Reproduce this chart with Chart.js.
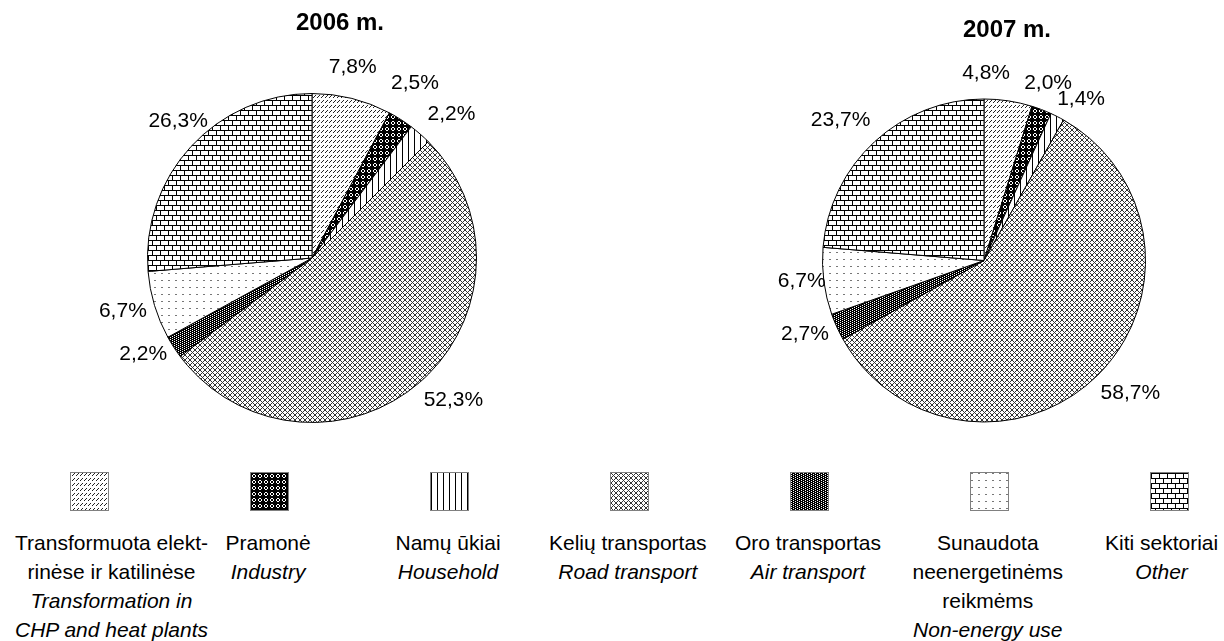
<!DOCTYPE html>
<html>
<head>
<meta charset="utf-8">
<script src="https://cdn.jsdelivr.net/npm/chart.js@4.4.0/dist/chart.umd.min.js"></script>
<style>
  body { margin: 0; background: #fff; width: 1224px; height: 641px; overflow: hidden; position: relative;
         font-family: "Liberation Sans", Arial, sans-serif; color: #000; }
  canvas.pie { position: absolute; top: 0; }
  .swatch { position: absolute; border: 1px solid #808080; box-sizing: border-box; }
  .text { position: absolute; text-align: center; font-size: 21px; line-height: 29px; white-space: nowrap; }
</style>
</head>
<body>
<canvas id="pie2006" class="pie" width="612" height="450" style="left:0"></canvas>
<canvas id="pie2007" class="pie" width="612" height="450" style="left:612px"></canvas>
<div id="legend"></div>
<script>
const years = ['2006 m.', '2007 m.'];
const sectorsLt = [
  ['Transformuota elekt-', 'rinėse ir katilinėse'],
  ['Pramonė'],
  ['Namų ūkiai'],
  ['Kelių transportas'],
  ['Oro transportas'],
  ['Sunaudota', 'neenergetinėms', 'reikmėms'],
  ['Kiti sektoriai']
];
const sectorsEn = [
  ['Transformation in', 'CHP and heat plants'],
  ['Industry'],
  ['Household'],
  ['Road transport'],
  ['Air transport'],
  ['Non-energy use'],
  ['Other']
];
const shares2006 = [7.8, 2.5, 2.2, 52.3, 2.2, 6.7, 26.3];
const shares2007 = [4.8, 2.0, 1.4, 58.7, 2.7, 6.7, 23.7];

// little bitmap tiles used as hatch fills
const makeTile = (w, h, bg, fg, pixels) => {
  const c = document.createElement('canvas');
  c.width = w; c.height = h;
  const g = c.getContext('2d');
  g.fillStyle = bg; g.fillRect(0, 0, w, h);
  g.fillStyle = fg;
  pixels.forEach(([x, y]) => g.fillRect(x, y, 1, 1));
  return c;
};
const tiles = [
  makeTile(4, 5, '#fff', '#222', [[3, 0], [2, 1], [1, 2]]),
  makeTile(6, 6, '#000', '#fff', [[2, 1], [3, 1], [1, 2], [4, 2], [1, 3], [4, 3], [2, 4], [3, 4]]),
  makeTile(6, 1, '#fff', '#000', [[0, 0]]),
  makeTile(5, 5, '#fff', '#333', [[0, 0], [1, 1], [2, 2], [3, 3], [4, 4], [4, 0], [3, 1], [1, 3], [0, 4]]),
  makeTile(4, 2, '#000', '#fff', [[0, 0], [2, 1]]),
  makeTile(7, 7, '#fff', '#777', [[0, 0], [1, 0]]),
  makeTile(8, 10, '#fff', '#000', [[0, 0], [1, 0], [2, 0], [3, 0], [4, 0], [5, 0], [6, 0], [7, 0],
    [0, 5], [1, 5], [2, 5], [3, 5], [4, 5], [5, 5], [6, 5], [7, 5],
    [0, 1], [0, 2], [0, 3], [0, 4], [4, 6], [4, 7], [4, 8], [4, 9]])
];
const patternsFor = ctx => tiles.map(t => ctx.createPattern(t, 'repeat'));

// percentage labels outside the slices, with small per-label nudges [degrees, px]
const pctLabels = {
  id: 'pctLabels',
  afterDatasetsDraw(chart, args, opts) {
    const ctx = chart.ctx;
    const meta = chart.getDatasetMeta(0);
    const values = chart.data.datasets[0].data;
    ctx.save();
    ctx.font = '21px "Liberation Sans", Arial, sans-serif';
    ctx.fillStyle = '#000';
    ctx.textAlign = 'center';
    ctx.textBaseline = 'middle';
    meta.data.forEach((arc, i) => {
      const p = arc.getProps(['x', 'y', 'startAngle', 'endAngle', 'outerRadius'], true);
      const [dA, dR] = (opts.nudge && opts.nudge[i]) || [0, 0];
      const mid = (p.startAngle + p.endAngle) / 2 + dA * Math.PI / 180;
      const r = p.outerRadius + 30 + dR;
      ctx.fillText(values[i].toFixed(1).replace('.', ',') + '%', p.x + Math.cos(mid) * r, p.y + Math.sin(mid) * r);
    });
    ctx.restore();
  }
};

const yearTitle = {
  id: 'yearTitle',
  afterDraw(chart, args, opts) {
    const ctx = chart.ctx;
    const ca = chart.chartArea;
    ctx.save();
    ctx.font = 'bold 24px "Liberation Sans", Arial, sans-serif';
    ctx.fillStyle = '#000';
    ctx.textAlign = 'center';
    ctx.textBaseline = 'middle';
    ctx.fillText(opts.text, (ca.left + ca.right) / 2 + opts.dx, opts.y);
    ctx.restore();
  }
};

const drawPie = (id, values, title, padding, titlePos, nudge) => {
  const ctx = document.getElementById(id).getContext('2d');
  return new Chart(ctx, {
    type: 'pie',
    data: {
      labels: sectorsEn.map(s => s.join(' ')),
      datasets: [{
        data: values,
        backgroundColor: patternsFor(ctx),
        borderColor: '#000',
        borderWidth: 1
      }]
    },
    options: {
      responsive: false,
      animation: false,
      devicePixelRatio: 1,
      layout: { padding },
      plugins: {
        legend: { display: false },
        tooltip: { enabled: false },
        yearTitle: { text: title, dx: titlePos.dx, y: titlePos.y },
        pctLabels: { nudge }
      }
    },
    plugins: [pctLabels, yearTitle]
  });
};

drawPie('pie2006', shares2006, years[0], { left: 147, right: 135, top: 93, bottom: 27 }, { dx: 28, y: 23 },
  [[-2, 1], [-2, 8], [3, 6], [-4, 6], [3, 0], [1, 2], [3, -3]]);
drawPie('pie2007', shares2007, years[1], { left: 210, right: 78, top: 98, bottom: 27 }, { dx: 23, y: 30 },
  [[-8, -4], [-1, -3], [4, -3], [-3, 6], [2, 2], [1, -8], [-3, 9]]);

// legend under both pies
const legend = document.getElementById('legend');
const swatchSize = 37;
sectorsLt.forEach((lt, i) => {
  const center = 88 + i * 180;
  const sw = document.createElement('canvas');
  sw.width = swatchSize; sw.height = swatchSize;
  sw.className = 'swatch';
  sw.style.left = (center - swatchSize / 2) + 'px';
  sw.style.top = (490 - swatchSize / 2) + 'px';
  const g = sw.getContext('2d');
  g.fillStyle = g.createPattern(tiles[i], 'repeat');
  g.fillRect(0, 0, swatchSize, swatchSize);
  legend.appendChild(sw);

  const txt = document.createElement('div');
  txt.className = 'text';
  txt.innerHTML = lt.join('<br>') + '<br><i>' + sectorsEn[i].join('<br>') + '</i>';
  txt.style.top = '528px';
  legend.appendChild(txt);
  const w = txt.offsetWidth;
  const left = Math.min(Math.max(center - w / 2, 15), 1218 - w);
  txt.style.left = left + 'px';
});
</script>
</body>
</html>
